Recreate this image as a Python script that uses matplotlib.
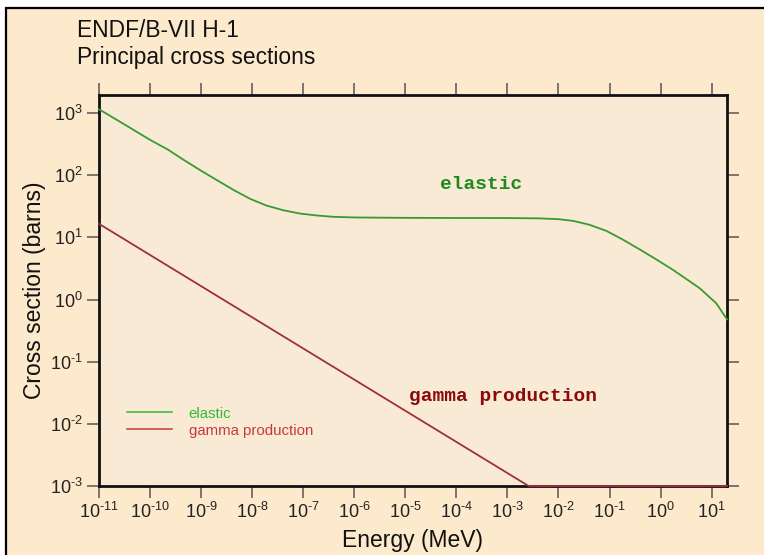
import matplotlib
matplotlib.use("Agg")
import matplotlib.pyplot as plt
from matplotlib.lines import Line2D
from matplotlib.patches import Rectangle
from matplotlib.ticker import LogLocator, FuncFormatter, NullLocator
import numpy as np

plt.rcParams['font.family'] = ['Liberation Sans', 'DejaVu Sans']
plt.rcParams['mathtext.fontset'] = 'custom'
plt.rcParams['mathtext.rm'] = 'Liberation Sans'
plt.rcParams['mathtext.it'] = 'Liberation Sans:italic'
plt.rcParams['mathtext.bf'] = 'Liberation Sans:bold'
plt.rcParams['axes.unicode_minus'] = False

# ---- data ----
title_lines = ["ENDF/B-VII H-1", "Principal cross sections"]
elastic_E = [1e-11, 3.16e-11, 1e-10, 2.24e-10, 4.47e-10, 1e-9, 2e-9, 4.47e-9, 9.1e-9,
             1.9e-8, 4.07e-8, 8.5e-8, 1.82e-7, 3.89e-7, 1e-6, 1e-5, 1e-4, 1e-3,
             4.27e-3, 1e-2, 1.95e-2, 3.98e-2, 8.7e-2, 0.178, 0.389, 0.83, 1.75,
             3.16, 5.83, 12.3, 20.0]
elastic_xs = [1150, 655, 370, 258, 178, 118, 84, 57, 41.7,
              32.5, 27.3, 24.2, 22.5, 21.4, 20.9, 20.6, 20.5, 20.45,
              20.2, 19.6, 18.4, 16.0, 12.7, 9.3, 6.4, 4.4, 3.0,
              2.15, 1.52, 0.87, 0.48]
gamma_E = [1e-11, 2.6e-3, 20.0]
gamma_xs = [16.5, 1e-3, 1e-3]
series_labels = ["elastic", "gamma production"]
xlabel = "Energy (MeV)"
ylabel = "Cross section (barns)"

W, H = 764, 555
fig = plt.figure(figsize=(W / 100, H / 100), dpi=100, facecolor='white')
fig.patches.append(Rectangle((6 / W, -0.1), 1.2, 1.1 - 8 / H, transform=fig.transFigure,
                             facecolor='#FDE9CC', edgecolor='black', linewidth=1.6, zorder=-10))

ax = fig.add_axes([99 / W, 1 - 486 / H, (727 - 99) / W, (486 - 95) / H])
ax.set_facecolor('#F9EAD6')

ax.plot(elastic_E, elastic_xs, color='#3A9A32', lw=1.3, clip_on=False, zorder=3,
        solid_joinstyle='round')
ax.plot(gamma_E, gamma_xs, color='#9E2F40', lw=1.3, clip_on=False, zorder=3)

ax.set_xscale('log')
ax.set_yscale('log')
ax.set_xlim(1e-11, 20)
ax.set_ylim(1e-3, 1950)


def fmt(v, pos):
    e = int(round(np.log10(v)))
    if e < 0:
        return r'$\mathdefault{10^{\text{-}%d}}$' % (-e)
    return r'$\mathdefault{10^{%d}}$' % e


ax.xaxis.set_major_locator(LogLocator(base=10, numticks=20))
ax.yaxis.set_major_locator(LogLocator(base=10, numticks=20))
ax.xaxis.set_minor_locator(NullLocator())
ax.yaxis.set_minor_locator(NullLocator())
ax.xaxis.set_major_formatter(FuncFormatter(fmt))
ax.yaxis.set_major_formatter(FuncFormatter(fmt))

ax.tick_params(axis='both', which='major', direction='out', length=8.5, width=1.1,
               color='#555555', labelsize=13, labelcolor='#222222', pad=3)
ax.tick_params(axis='x', top=True, labeltop=False)
ax.tick_params(axis='y', right=True, labelright=False)

for s in ax.spines.values():
    s.set_linewidth(2.0)
    s.set_color('#111111')

ax.set_xlabel(xlabel, fontsize=16.5, color='#111111')
ax.set_ylabel(ylabel, fontsize=16.5, color='#111111')
ax.xaxis.set_label_coords(0.5, -(529 - 486) / 391)
ax.yaxis.set_label_coords(-(99 - 46) / 628, 0.5)

fig.text(77 / W, 1 - 37 / H, title_lines[0], fontsize=16.4, color='#111111', va='baseline')
fig.text(77 / W, 1 - 64 / H, title_lines[1], fontsize=16.4, color='#111111', va='baseline')

ax.text(0.608, 0.77, series_labels[0], transform=ax.transAxes, ha='center', va='center',
        family='Liberation Mono', fontweight='bold', fontsize=14, color='#1E8A1E')
ax.text(0.643, 0.23, series_labels[1], transform=ax.transAxes, ha='center', va='center',
        family='Liberation Mono', fontweight='bold', fontsize=14, color='#8B0A0A')

handles = [Line2D([], [], color='#33BB33', lw=1.1), Line2D([], [], color='#C83A3A', lw=1.1)]
leg = ax.legend(handles, series_labels, loc='upper left', bbox_to_anchor=(0.045, 0.203),
                frameon=False, fontsize=10.8, handlelength=3.0, handletextpad=1.1,
                labelspacing=0.2, borderpad=0, borderaxespad=0)
for t, c in zip(leg.get_texts(), ['#33BB33', '#C83A3A']):
    t.set_color(c)

fig.savefig('out.png', dpi=100, facecolor=fig.get_facecolor())
